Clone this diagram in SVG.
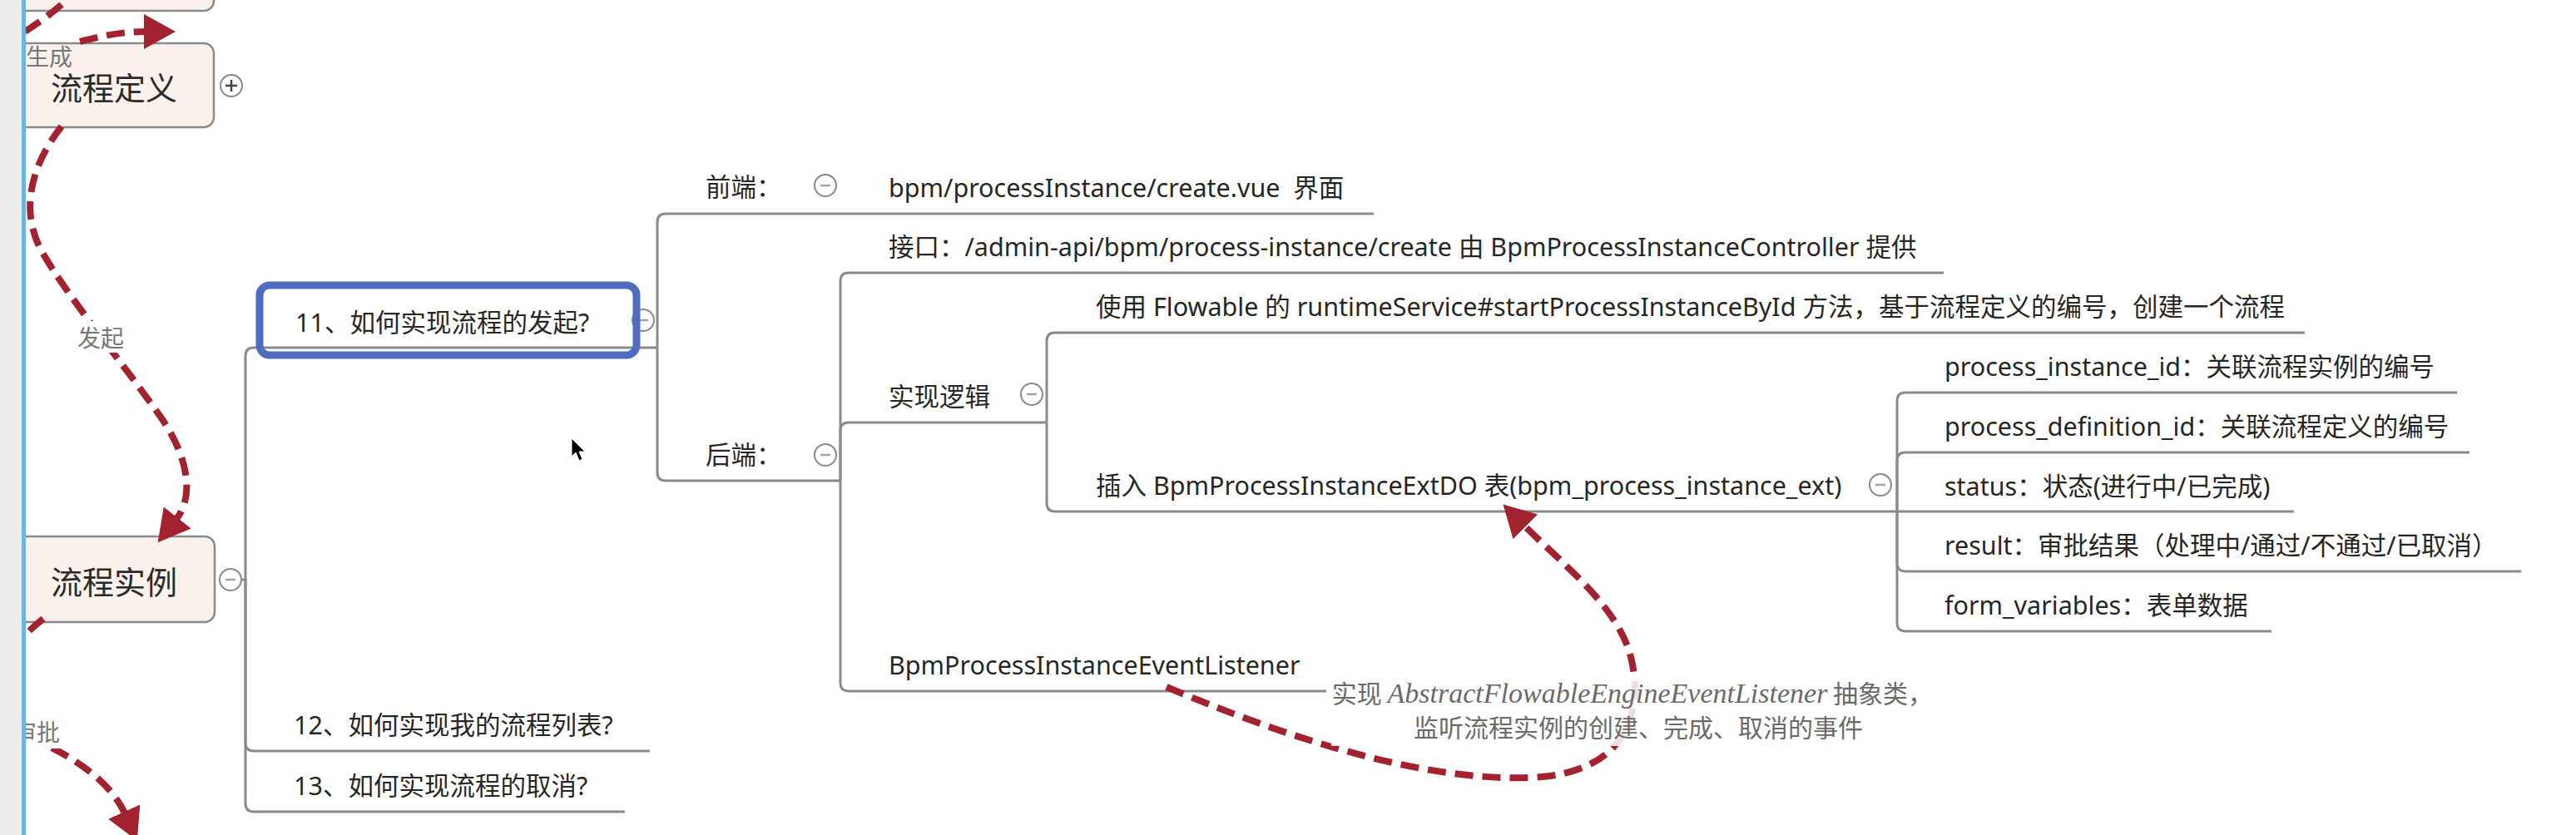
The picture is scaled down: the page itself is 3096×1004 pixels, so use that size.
<svg xmlns="http://www.w3.org/2000/svg" width="3096" height="1004" viewBox="0 0 3096 1004">
<defs>
<style>
.t{font-family:"Noto Sans","Noto Sans CJK SC",sans-serif;font-size:30.5px;fill:#262626}
.big{font-family:"Noto Sans CJK SC","Noto Sans",sans-serif;font-size:38px;fill:#2a2a2a;text-anchor:middle}
.lbl{font-family:"Noto Sans CJK SC","Noto Sans",sans-serif;font-size:28px;fill:#777}
.cap{font-family:"Noto Sans CJK SC","Noto Sans",sans-serif;font-size:30px;fill:#6a6a6a;text-anchor:middle}
.it{font-family:"Liberation Serif",serif;font-style:italic;font-size:34px}
.br{fill:none;stroke:#8a8a8a;stroke-width:3}
.main{fill:#fbf1ec;stroke:#8a8a8a;stroke-width:2.5}
.btn{fill:#fff;stroke:#8a8a8a;stroke-width:2}
.mn{stroke:#9aa2b6;stroke-width:2.5}
.pl{stroke:#444;stroke-width:2.5}
.rel{fill:none;stroke:#a3222f;stroke-width:8;stroke-dasharray:22 11;marker-end:url(#arr)}
.reln{fill:none;stroke:#a3222f;stroke-width:8;stroke-dasharray:22 11}
</style>
<marker id="arr" markerUnits="userSpaceOnUse" markerWidth="40" markerHeight="44" refX="2" refY="21" orient="auto">
<path d="M0,0 L38,21 L0,42 Z" fill="#a3222f"/>
</marker>
</defs>
<rect x="0" y="0" width="3096" height="1004" fill="#fff"/>

<g id="connectors">
<path class="br" d="M291 697 H295"/>
<path class="br" d="M295 697 V428 Q295 418 305 418 H790"/>
<path class="br" d="M295 697 V893 Q295 903 305 903 H781"/>
<path class="br" d="M295 697 V966 Q295 976 305 976 H751"/>
<path class="br" d="M790 418 V267 Q790 257 800 257 H1651"/>
<path class="br" d="M790 418 V568 Q790 578 800 578 H1010"/>
<path class="br" d="M1010 578 V338 Q1010 328 1020 328 H2336"/>
<path class="br" d="M1010 578 V518 Q1010 508 1020 508 H1258"/>
<path class="br" d="M1010 578 V821 Q1010 831 1020 831 H1594"/>
<path class="br" d="M1258 508 V410 Q1258 400 1268 400 H2770"/>
<path class="br" d="M1258 508 V605 Q1258 615 1268 615 H2280"/>
<path class="br" d="M2280 615 V482 Q2280 472 2290 472 H2953"/>
<path class="br" d="M2280 615 V554 Q2280 544 2290 544 H2968"/>
<path class="br" d="M2280 615 H2757"/>
<path class="br" d="M2280 615 V677 Q2280 687 2290 687 H3030"/>
<path class="br" d="M2280 615 V749 Q2280 759 2290 759 H2730"/>
</g>

<g id="node-top">
<rect class="main" x="-10" y="-60" width="267" height="73" rx="12"/>
</g>

<g id="node-liucheng-dingyi">
<rect class="main" x="-10" y="52" width="267" height="101" rx="12"/>
<text class="big" x="137" y="120">流程定义</text>
<circle class="btn" cx="278" cy="103" r="13"/>
<path class="pl" d="M271 103 H285 M278 96 V110"/>
</g>

<g id="node-liucheng-shili">
<rect class="main" x="-10" y="645" width="268" height="103" rx="12"/>
<text class="big" x="137" y="714">流程实例</text>
<circle class="btn" cx="277" cy="697" r="13"/>
<path class="mn" d="M271 697 H283"/>
</g>

<g id="node-11">
<circle class="btn" cx="773" cy="385" r="13"/>
<path class="mn" d="M767 385 H779"/>
<rect x="312" y="343" width="453" height="84" rx="12" fill="none" stroke="#4f6cc0" stroke-width="9"/>
<text class="t" x="355" y="399">11、如何实现流程的发起?</text>
</g>

<g id="node-12"><text class="t" x="353" y="883">12、如何实现我的流程列表?</text></g>
<g id="node-13"><text class="t" x="353" y="956">13、如何实现流程的取消?</text></g>

<g id="node-qianduan">
<text class="t" x="848" y="236">前端：</text>
<circle class="btn" cx="992" cy="223" r="13"/>
<path class="mn" d="M986 223 H998"/>
</g>
<g id="node-vue"><text class="t" x="1068" y="237" xml:space="preserve">bpm/processInstance/create.vue  界面</text></g>

<g id="node-houduan">
<text class="t" x="848" y="558">后端：</text>
<circle class="btn" cx="992" cy="547" r="13"/>
<path class="mn" d="M986 547 H998"/>
</g>

<g id="node-jiekou"><text class="t" x="1068" y="308">接口：/admin-api/bpm/process-instance/create 由 BpmProcessInstanceController 提供</text></g>

<g id="node-luoji">
<text class="t" x="1068" y="488">实现逻辑</text>
<circle class="btn" cx="1240" cy="474" r="13"/>
<path class="mn" d="M1234 474 H1246"/>
</g>

<g id="node-shiyong"><text class="t" x="1317" y="380">使用 Flowable 的 runtimeService#startProcessInstanceById 方法，基于流程定义的编号，创建一个流程</text></g>

<g id="node-charu">
<text class="t" x="1317" y="595">插入 BpmProcessInstanceExtDO 表(bpm_process_instance_ext)</text>
<circle class="btn" cx="2260" cy="583" r="13"/>
<path class="mn" d="M2254 583 H2266"/>
</g>

<g id="node-pid"><text class="t" x="2337" y="452">process_instance_id：关联流程实例的编号</text></g>
<g id="node-pdid"><text class="t" x="2337" y="524">process_definition_id：关联流程定义的编号</text></g>
<g id="node-status"><text class="t" x="2337" y="596">status：状态(进行中/已完成)</text></g>
<g id="node-result"><text class="t" x="2337" y="667">result：审批结果（处理中/通过/不通过/已取消）</text></g>
<g id="node-form"><text class="t" x="2337" y="739">form_variables：表单数据</text></g>

<g id="node-listener"><text class="t" x="1068" y="811">BpmProcessInstanceEventListener</text></g>

<g id="relationships">
<path class="reln" d="M30 38 C45 28, 60 18, 78 2"/>
<path class="rel" d="M96 50 C120 44, 145 38, 175 38"/>
<path class="rel" d="M74 152 C40 195, 22 250, 50 302 C80 355, 150 440, 190 497 C225 545, 235 595, 212 624"/>
<path class="rel" d="M52 744 C-20 800, -10 860, 60 898 C100 918, 135 945, 150 978"/>
<path class="rel" d="M1402 826 C1530 880, 1700 940, 1840 935 C1960 930, 1975 850, 1960 790 C1945 730, 1880 680, 1832 632"/>
</g>

<g id="rel-labels">
<text class="lbl" x="31" y="79">生成</text>
<rect x="88" y="386" width="66" height="38" fill="#fff"/>
<text class="lbl" x="93" y="417">发起</text>
<rect x="10" y="864" width="66" height="36" fill="#fff"/>
<text class="lbl" x="72" y="891" text-anchor="end">审批</text>
<rect x="1600" y="815" width="726" height="82" fill="#fff" opacity="0.85"/>
<text class="cap" x="1962" y="845">实现 <tspan class="it">AbstractFlowableEngineEventListener</tspan> 抽象类，</text>
<text class="cap" x="1969" y="886">监听流程实例的创建、完成、取消的事件</text>
</g>

<path d="M687 527 L687 549 L692 544 L696 554 L700 552 L696 543 L703 543 Z" fill="#000" stroke="#fff" stroke-width="1"/>

<rect x="0" y="0" width="26" height="1004" fill="#ececec"/>
<rect x="26" y="0" width="5" height="1004" fill="#6db3e6"/>
</svg>
